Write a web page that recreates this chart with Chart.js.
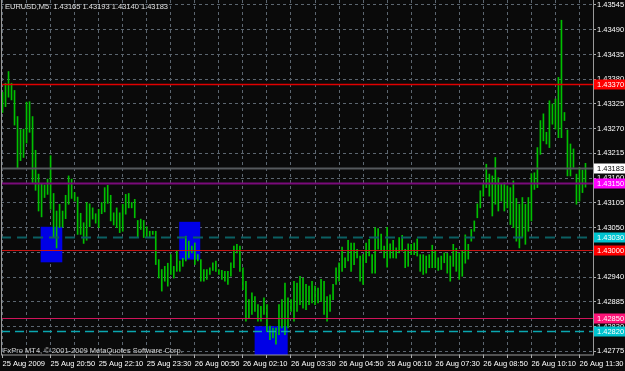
<!DOCTYPE html>
<html>
<head>
<meta charset="utf-8">
<script src="https://cdn.jsdelivr.net/npm/chart.js@4.4.1/dist/chart.umd.min.js"></script>
<style>
  html, body { margin: 0; padding: 0; background: #0a0a0a; }
  canvas { display: block; }
</style>
</head>
<body>
<canvas id="mtChart" width="625" height="371"></canvas>
<script>
// EURUSD M5, 25 Aug 2009 19:30 onwards
const barHigh = [
  1.43351, 1.43371, 1.43397, 1.43371, 1.43355, 1.43297, 1.43268, 1.43269, 1.43329, 1.43330,
  1.43297, 1.43222, 1.43169, 1.43147, 1.43145, 1.43158, 1.43210, 1.43126, 1.43087, 1.43102,
  1.43087, 1.43122, 1.43165, 1.43158, 1.43128, 1.43118, 1.43082, 1.43061, 1.43106, 1.43103,
  1.43094, 1.43081, 1.43091, 1.43106, 1.43139, 1.43144, 1.43122, 1.43083, 1.43094, 1.43083,
  1.43102, 1.43124, 1.43126, 1.43106, 1.43113, 1.43066, 1.43069, 1.43066, 1.43052, 1.43042,
  1.43042, 1.43042, 1.42979, 1.42957, 1.42964, 1.42971, 1.42990, 1.42964, 1.42998, 1.42976,
  1.42982, 1.43031, 1.43020, 1.43009, 1.43016, 1.42990, 1.42979, 1.42957, 1.42957, 1.42961,
  1.42972, 1.42976, 1.42957, 1.42955, 1.42953, 1.42953, 1.42972, 1.43009, 1.43013, 1.43009,
  1.42961, 1.42931, 1.42890, 1.42905, 1.42897, 1.42879, 1.42875, 1.42894, 1.42879, 1.42831,
  1.42827, 1.42827, 1.42879, 1.42890, 1.42927, 1.42894, 1.42890, 1.42931, 1.42927, 1.42942,
  1.42938, 1.42924, 1.42920, 1.42931, 1.42920, 1.42916, 1.42935, 1.42931, 1.42897, 1.42901,
  1.42924, 1.42961, 1.42972, 1.43007, 1.42983, 1.43022, 1.43016, 1.43016, 1.43002, 1.42987,
  1.42990, 1.43016, 1.43024, 1.42990, 1.43050, 1.43048, 1.43036, 1.43009, 1.43051, 1.43014,
  1.43022, 1.43005, 1.43028, 1.43033, 1.43002, 1.43014, 1.43013, 1.43016, 1.43025, 1.42990,
  1.42990, 1.42987, 1.42990, 1.43011, 1.42998, 1.42983, 1.42987, 1.42994, 1.42993, 1.42987,
  1.43013, 1.43004, 1.42993, 1.42998, 1.43034, 1.43013, 1.43046, 1.43065, 1.43103, 1.43132,
  1.43148, 1.43191, 1.43169, 1.43165, 1.43206, 1.43161, 1.43147, 1.43150, 1.43143, 1.43139,
  1.43154, 1.43115, 1.43102, 1.43117, 1.43102, 1.43117, 1.43170, 1.43172, 1.43228, 1.43288,
  1.43303, 1.43262, 1.43332, 1.43325, 1.43336, 1.43384, 1.43511, 1.43306, 1.43267, 1.43236,
  1.43225, 1.43169, 1.43184, 1.43178, 1.43193
];
const barLow = [
  1.43306, 1.43319, 1.43340, 1.43334, 1.43278, 1.43181, 1.43199, 1.43206, 1.43238, 1.43262,
  1.43150, 1.43133, 1.43087, 1.43074, 1.43117, 1.43124, 1.43091, 1.43028, 1.43005, 1.43050,
  1.43051, 1.43070, 1.43102, 1.43115, 1.43109, 1.43035, 1.43035, 1.43015, 1.43022, 1.43052,
  1.43069, 1.43060, 1.43050, 1.43081, 1.43085, 1.43104, 1.43065, 1.43056, 1.43050, 1.43039,
  1.43042, 1.43080, 1.43094, 1.43094, 1.43072, 1.43030, 1.43046, 1.43028, 1.43030, 1.43028,
  1.43035, 1.42968, 1.42938, 1.42909, 1.42931, 1.42920, 1.42946, 1.42938, 1.42953, 1.42953,
  1.42964, 1.42976, 1.42983, 1.42994, 1.42968, 1.42976, 1.42931, 1.42931, 1.42935, 1.42946,
  1.42955, 1.42953, 1.42946, 1.42935, 1.42931, 1.42924, 1.42942, 1.42961, 1.42994, 1.42953,
  1.42912, 1.42842, 1.42849, 1.42857, 1.42864, 1.42842, 1.42842, 1.42857, 1.42819, 1.42801,
  1.42805, 1.42791, 1.42812, 1.42827, 1.42812, 1.42827, 1.42864, 1.42842, 1.42864, 1.42879,
  1.42871, 1.42868, 1.42879, 1.42883, 1.42879, 1.42883, 1.42886, 1.42857, 1.42842, 1.42864,
  1.42890, 1.42924, 1.42931, 1.42953, 1.42961, 1.42976, 1.42953, 1.42968, 1.42983, 1.42931,
  1.42924, 1.42972, 1.42987, 1.42949, 1.42949, 1.43002, 1.42998, 1.42983, 1.42962, 1.42982,
  1.42983, 1.42982, 1.42994, 1.42998, 1.42961, 1.42964, 1.42990, 1.42990, 1.42987, 1.42953,
  1.42946, 1.42949, 1.42961, 1.42961, 1.42961, 1.42955, 1.42957, 1.42972, 1.42949, 1.42931,
  1.42964, 1.42953, 1.42935, 1.42942, 1.42971, 1.42980, 1.43020, 1.43042, 1.43072, 1.43094,
  1.43120, 1.43139, 1.43120, 1.43076, 1.43102, 1.43087, 1.43109, 1.43087, 1.43094, 1.43057,
  1.43050, 1.43020, 1.43005, 1.43028, 1.43013, 1.43042, 1.43065, 1.43135, 1.43139, 1.43213,
  1.43243, 1.43236, 1.43228, 1.43280, 1.43269, 1.43250, 1.43250, 1.43288, 1.43165, 1.43165,
  1.43184, 1.43102, 1.43109, 1.43128, 1.43140
];
const lastBar = [1.43165, 1.43193, 1.43140, 1.43183]; // open high low close

const timeLabels = [
  '25 Aug 2009', '25 Aug 20:50', '25 Aug 22:10', '25 Aug 23:30', '26 Aug 00:50',
  '26 Aug 02:10', '26 Aug 03:30', '26 Aug 04:50', '26 Aug 06:10', '26 Aug 07:30',
  '26 Aug 08:50', '26 Aug 10:10', '26 Aug 11:30'
];
const barsPerLabel = 16;
const emptySlots = 2; // chart shift on the right

const priceTicks = [
  1.42775, 1.42830, 1.42885, 1.42940, 1.42995, 1.43050, 1.43105, 1.43160,
  1.43215, 1.43270, 1.43325, 1.43380, 1.43435, 1.43490, 1.43545
];

// horizontal lines
const levelPrice = [1.43370, 1.43183, 1.43150, 1.43030, 1.43000, 1.42850, 1.42820];
const levelLine  = ['#e00000', '#55595d', '#7a0a7a', '#0b5f62', '#c81414', '#d0145a', '#0aa6b0'];
const levelBox   = ['#ff0000', '#ffffff', '#ff00ff', '#00c4d0', '#ff0000', '#ff1478', '#00c4d0'];
const levelWidth = [1.5, 2, 2, 2, 1, 1, 1.5];
const levelDash  = [[], [], [], [10, 6], [], [], [9, 5]];

// rectangles (bar index from/to, price top/bottom)
const boxFrom = [12.7, 58.8, 83.9];
const boxTo = [19.9, 65.8, 94.9];
const boxTop = [1.43052, 1.43063, 1.42831];
const boxBottom = [1.42973, 1.42979, 1.42740];

const categories = [];
for (let i = 0; i < barHigh.length + emptySlots; i++) {
  const m = 19 * 60 + 30 + i * 5;
  const hh = Math.floor(m / 60) % 24, mm = m % 60;
  categories.push(String(hh).padStart(2, '0') + ':' + String(mm).padStart(2, '0'));
}

const font = { family: 'Liberation Sans', size: 7.5 };
const gridColor = '#5c6670';

const mtPlugin = {
  id: 'mt',
  beforeDraw(chart) {
    const ctx = chart.ctx;
    ctx.save();
    ctx.fillStyle = '#0a0a0a';
    ctx.fillRect(0, 0, chart.width, chart.height);
    ctx.restore();
  },
  beforeDatasetsDraw(chart) {
    const { ctx, chartArea: a, scales: { x, y } } = chart;
    ctx.save();
    ctx.beginPath();
    ctx.rect(a.left, a.top, a.right - a.left, a.bottom - a.top);
    ctx.clip();
    ctx.fillStyle = '#0000e6';
    boxFrom.forEach((b, i) => {
      const x0 = x.getPixelForValue(b), x1 = x.getPixelForValue(boxTo[i]);
      const y0 = y.getPixelForValue(boxTop[i]), y1 = y.getPixelForValue(boxBottom[i]);
      ctx.fillRect(x0, y0, x1 - x0, y1 - y0);
    });
    ctx.restore();
  },
  afterDatasetsDraw(chart) {
    const { ctx, chartArea: a, scales: { y } } = chart;
    ctx.save();
    levelPrice.forEach((p, i) => {
      const py = Math.round(y.getPixelForValue(p)) + 0.5;
      ctx.strokeStyle = levelLine[i];
      ctx.lineWidth = levelWidth[i];
      ctx.setLineDash(levelDash[i]);
      ctx.beginPath();
      ctx.moveTo(a.left, py);
      ctx.lineTo(a.right, py);
      ctx.stroke();
    });
    ctx.restore();
  },
  afterDraw(chart) {
    const { ctx, chartArea: a, scales: { y } } = chart;
    ctx.save();
    // frame
    ctx.strokeStyle = '#9a9a9a';
    ctx.lineWidth = 1;
    ctx.setLineDash([]);
    ctx.strokeRect(a.left + 0.5, a.top - 0.5, a.right - a.left, a.bottom - a.top + 0.5);
    // price labels of the lines
    ctx.font = font.size + 'px ' + font.family;
    ctx.textBaseline = 'middle';
    ctx.textAlign = 'left';
    levelPrice.forEach((p, i) => {
      const py = Math.round(y.getPixelForValue(p));
      ctx.fillStyle = levelBox[i];
      ctx.fillRect(a.right + 1, py - 4.5, chart.width - a.right - 1, 10);
      ctx.fillStyle = levelBox[i] === '#ffffff' ? '#000000' : '#ffffff';
      ctx.fillText(p.toFixed(5), a.right + 4, py + 0.5);
    });
    // header and copyright
    ctx.fillStyle = '#e0e0e0';
    ctx.fillText('EURUSD,M5  ' + lastBar.map(v => v.toFixed(5)).join(' '), 5, 7);
    ctx.fillStyle = '#d0d0d0';
    ctx.textBaseline = 'alphabetic';
    ctx.fillText('FxPro MT4, \u00a9 2001-2009 MetaQuotes Software Corp.', 3, 353);
    ctx.restore();
  }
};

new Chart(document.getElementById('mtChart'), {
  type: 'bar',
  data: {
    labels: categories,
    datasets: [{
      data: barHigh.map((h, i) => [barLow[i], h]),
      backgroundColor: '#00c000',
      borderWidth: 0,
      barThickness: 1
    }]
  },
  options: {
    responsive: false,
    animation: false,
    devicePixelRatio: 1,
    layout: { padding: { left: 1, top: 0, right: 0, bottom: 0 } },
    plugins: { legend: { display: false }, tooltip: { enabled: false } },
    scales: {
      x: {
        offset: true,
        grid: { offset: false, color: gridColor, tickColor: '#b0b0b0', tickLength: 3 },
        border: { display: false, dash: [3, 3] },
        ticks: {
          autoSkip: false, maxRotation: 0, minRotation: 0, align: 'start',
          padding: 1, color: '#ffffff', font: font,
          callback(v, i) {
            if (i % barsPerLabel === 0) return timeLabels[i / barsPerLabel];
            if (i % (barsPerLabel / 2) === 0) return '';
            return null;
          }
        },
        afterFit(s) { s.height = 16; s.paddingLeft = 0; s.paddingRight = 0; }
      },
      y: {
        position: 'right',
        min: 1.42767,
        max: 1.43556,
        afterBuildTicks(s) { s.ticks = priceTicks.map(v => ({ value: v })); },
        grid: { color: gridColor, tickColor: '#b0b0b0', tickLength: 3 },
        border: { display: false, dash: [3, 3] },
        ticks: { color: '#ffffff', font: font, padding: 1, callback: v => v.toFixed(5) },
        afterFit(s) { s.width = 32; s.paddingTop = 0; s.paddingBottom = 0; }
      }
    }
  },
  plugins: [mtPlugin]
});
</script>
</body>
</html>
